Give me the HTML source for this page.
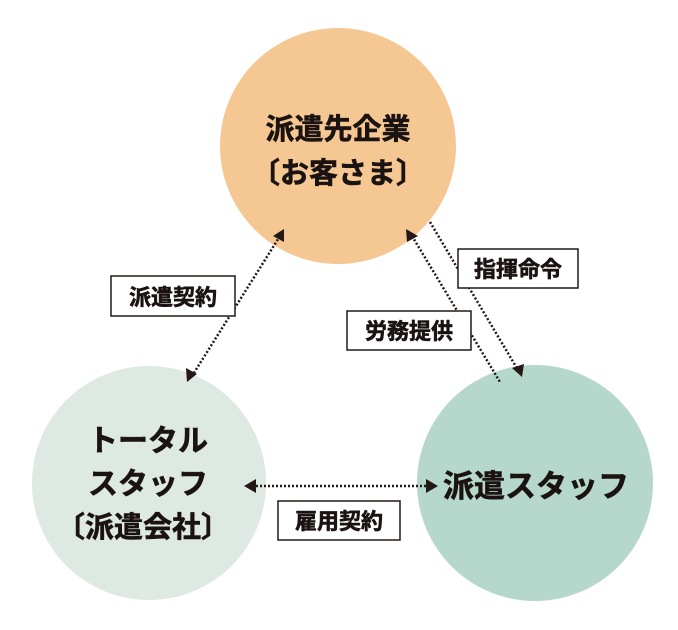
<!DOCTYPE html>
<html><head><meta charset="utf-8"><style>
html,body{margin:0;padding:0;background:#fff;}
svg{display:block}
text{font-family:"Liberation Sans","Noto Sans CJK JP",sans-serif;font-weight:bold;fill:#1a1311;stroke:#1a1311;stroke-width:0.6}
</style></head><body>
<svg width="678" height="630" viewBox="0 0 678 630" xmlns="http://www.w3.org/2000/svg">
<circle cx="338" cy="146" r="118" fill="#f5c793"/>
<circle cx="149" cy="483" r="117" fill="#dde9e2"/>
<circle cx="535" cy="483" r="118" fill="#b6d7cc"/>

<g stroke="#231815" stroke-width="2.5" stroke-dasharray="2 2" fill="none">
<line x1="280" y1="236" x2="192" y2="376"/>
<line x1="412" y1="236" x2="500" y2="382"/>
<line x1="430" y1="222" x2="518" y2="370"/>
<line x1="252" y1="486" x2="430" y2="486"/>
</g>
<g fill="#231815">
<polygon points="284,229 273,236 284,242"/>
<polygon points="187,382 186,368 197,374"/>
<polygon points="406,229 418,236 407,242"/>
<polygon points="522,377 512,368 524,364"/>
<polygon points="244,486 256,479 256,493"/>
<polygon points="438,486 426,479 426,493"/>
</g>

<g fill="#fff" stroke="#231815" stroke-width="1.5">
<rect x="111" y="276" width="124" height="40"/>
<rect x="458" y="249" width="120" height="39"/>
<rect x="347" y="311" width="124" height="39"/>
<rect x="278" y="501" width="122" height="39"/>
</g>
<text x="173" y="305" font-size="22" text-anchor="middle">派遣契約</text>
<text x="518" y="277" font-size="22" text-anchor="middle">指揮命令</text>
<text x="409" y="339" font-size="22" text-anchor="middle">労務提供</text>
<text x="339" y="529" font-size="22" text-anchor="middle">雇用契約</text>

<text x="338" y="139" font-size="29" text-anchor="middle">派遣先企業</text>
<text x="338" y="183" font-size="29" text-anchor="middle">〔お客さま〕</text>
<text x="148" y="451" font-size="30" text-anchor="middle">トータル</text>
<text x="148" y="494" font-size="30" text-anchor="middle">スタッフ</text>
<text x="143" y="537" font-size="29" text-anchor="middle">〔派遣会社〕</text>
<text x="536" y="497" font-size="31" text-anchor="middle">派遣スタッフ</text>
</svg>
</body></html>
